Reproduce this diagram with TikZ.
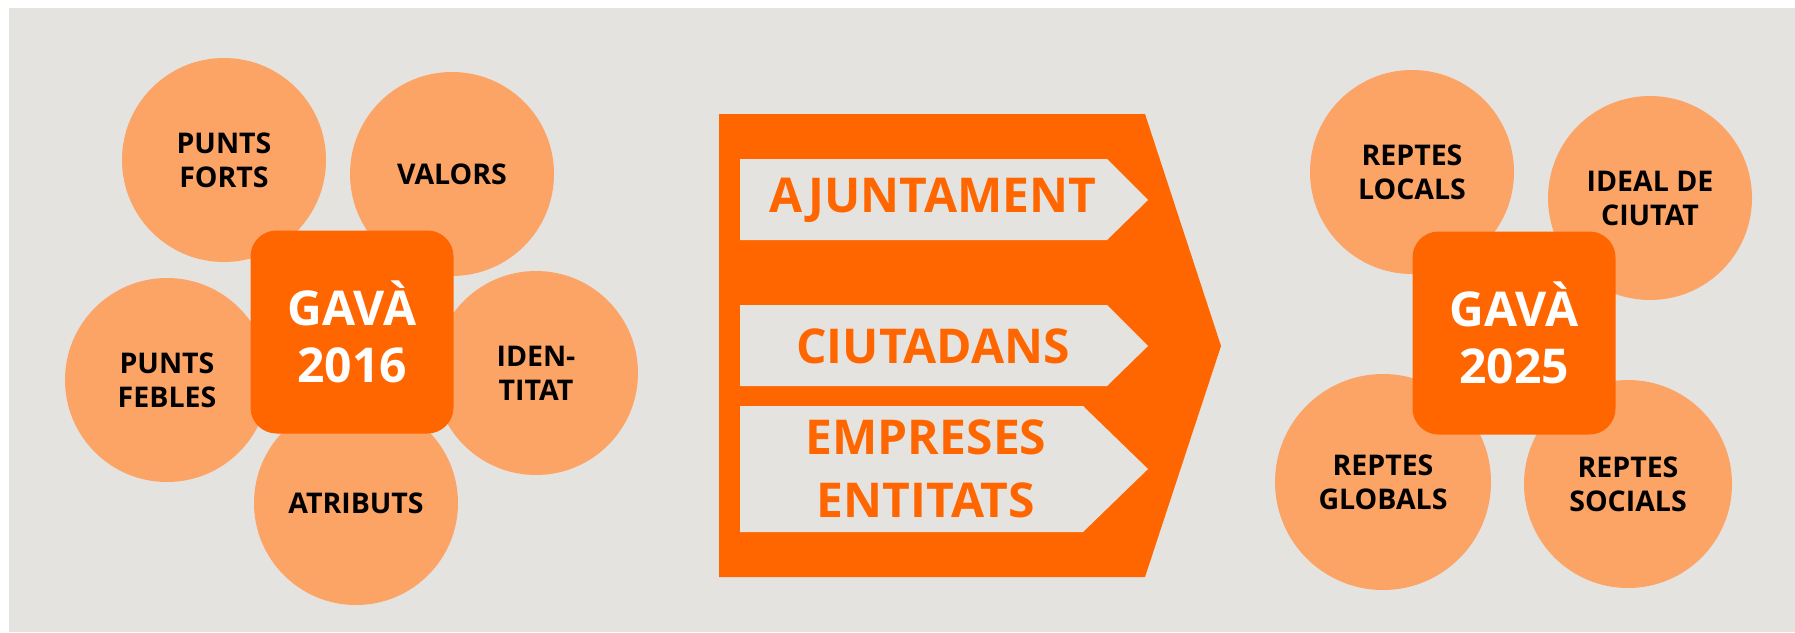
\documentclass[tikz,border=0pt]{standalone}
\usepackage{fontspec}
\setmainfont{Open Sans}
\definecolor{bggray}{HTML}{E4E3DF}
\definecolor{lorange}{HTML}{FCA366}
\definecolor{dorange}{HTML}{FF6600}
\begin{document}
\begin{tikzpicture}[x=1pt,y=-1pt,
  petal/.style={circle,fill=lorange,minimum size=204pt,inner sep=0pt,align=center,
    font=\fontsize{28.5}{34}\selectfont\bfseries,text=black},
  core/.style={rectangle,rounded corners=26pt,fill=dorange,minimum size=203pt,inner sep=0pt,
    align=center,font=\fontsize{48}{57}\selectfont\bfseries,text=white},
  lbl/.style={align=center,font=\fontsize{48}{63}\selectfont\bfseries,text=dorange,inner sep=0pt}]
\useasboundingbox (0,0) rectangle (1795,632);
\fill[white] (0,0) rectangle (1795,632);
\fill[bggray] (9,8) rectangle (1795,632);
% left cluster
\node[petal] (pf) at (224,160) {PUNTS\\FORTS};
\node[petal] (va) at (452,174) {VALORS};
\node[petal] (pb) at (167,380) {PUNTS\\FEBLES};
\node[petal] (id) at (536,373) {IDEN-\\TITAT};
\node[petal] (at) at (356,503) {ATRIBUTS};
\node[core] (g16) at (352,332) {GAVÀ\\2016};
% middle arrow
\fill[dorange] (719,114) -- (1145,114) -- (1221,346) -- (1145,577) -- (719,577) -- cycle;
\fill[bggray] (740,159) -- (1107,159) -- (1148,200) -- (1107,240) -- (740,240) -- cycle;
\fill[bggray] (740,305) -- (1107,305) -- (1148,346) -- (1107,386) -- (740,386) -- cycle;
\fill[bggray] (740,406) -- (1083,406) -- (1148,469) -- (1083,532) -- (740,532) -- cycle;
\node[lbl] (aj) at (933,200) {AJUNTAMENT};
\node[lbl] (ci) at (933,346) {CIUTADANS};
\node[lbl] (em) at (926,469) {EMPRESES\\ENTITATS};
% right cluster
\node[petal] (rl) at (1412,172) {REPTES\\LOCALS};
\node[petal] (ic) at (1650,198) {IDEAL DE\\CIUTAT};
\node[petal,minimum size=216pt] (rg) at (1383,482) {REPTES\\GLOBALS};
\node[petal,minimum size=208pt] (rs) at (1628,484) {REPTES\\SOCIALS};
\node[core] (g25) at (1514,333) {GAVÀ\\2025};
\end{tikzpicture}
\end{document}
